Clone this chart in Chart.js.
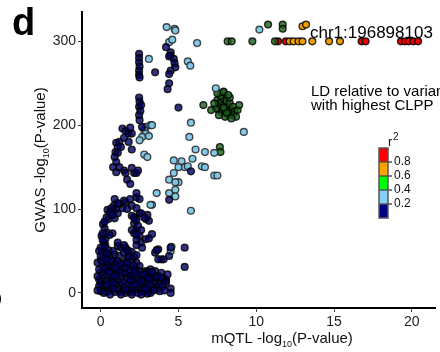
<!DOCTYPE html>
<html>
<head>
<meta charset="utf-8">
<script src="https://cdn.jsdelivr.net/npm/chart.js@4.4.0/dist/chart.umd.min.js"></script>
<style>
  html, body { margin: 0; padding: 0; background: #fff; }
  #wrap { width: 440px; height: 352px; position: relative; }
</style>
</head>
<body>
<div id="wrap"><canvas id="ldScatter" width="440" height="352"></canvas></div>
<script>
// [mQTL -log10 P, GWAS -log10 P] per LD bin
const navyPoints = [
  [0,2],[0.1,5],[0.2,9],[0,12],[0.3,15],[0.1,18],[0.4,21],[0,24],[0.2,27],[0.5,30],[0.1,33],[0.3,36],
  [0,39],[0.4,42],[0.2,45],[0.1,48],[0.5,51],[0,54],[0.3,57],[0.2,60],[0.6,3],[0.7,8],[0.6,13],[0.8,17],
  [0.6,22],[0.9,26],[0.7,30],[0.5,34],[0.8,38],[0.6,44],[-0.1,28],[-0.1,8],[0.4,1],[0.9,1],[-0.1,16],[0.2,0],
  [1.2,1],[1.4,3],[1.6,0],[1.8,2],[2.0,1],[2.2,4],[2.4,0],[2.6,2],[2.8,1],[3.0,3],[3.2,0],[1.1,6],
  [1.5,7],[1.9,6],[2.3,8],[2.7,6],[3.1,7],[1.0,10],[1.3,12],[1.1,16],[1.5,14],[1.7,18],[1.3,20],[1.0,22],
  [1.2,27],[1.6,24],[1.9,21],[2.0,12],[1.8,10],[2.2,14],[2.5,12],[2.4,18],[2.6,22],[2.8,16],[2.7,10],[3.0,12],
  [3.2,15],[3.0,20],[3.3,22],[3.5,18],[3.4,12],[3.6,8],[3.8,14],[3.7,20],[3.9,24],[3.5,26],[3.2,28],[2.9,26],
  [3.8,10],[3.6,4],[3.4,6],[4.0,18],[4.2,15],[4.3,22],[1.1,56],[1.3,54],[1.6,54],[1.8,50],[0.9,46],[1.2,44],
  [0.75,38],[1.0,35],[1.5,36],[1.7,42],[2.0,40],[2.3,36],[2.5,32],[1.4,30],[1.9,32],[2.2,28],[0.8,50],[0.06,68],
  [0.25,77],[0.15,82],[0.4,72],[0.3,64],[0.5,88],[0.75,94],[0.9,89],[1.0,100],[1.1,95],[0.6,98],[0.85,104],[1.4,101],
  [1.6,108],[2.0,104],[2.3,101],[2.5,95],[0.9,112],[1.5,110],[1.7,100],[1.2,106],[1.9,112],[2.0,92],[2.15,83],[2.3,74],
  [2.5,68],[2.6,60],[2.66,54],[2.9,64],[3.1,65],[3.1,86],[2.9,88],[2.6,95],[2.4,80],[2.2,88],[3.0,93],[3.3,70],
  [3.5,48],[3.9,40],[3.7,52],[4.5,54],[4.4,44],[5.4,54],[5.4,31],[4.5,5],[4.5,0],[3.7,40],[4.05,40],[4.2,15],
  [4.2,12],[4.4,111],[2.3,114],[2.5,112],[1.0,179],[1.2,180],[1.1,174],[0.95,168],[0.9,162],[1.0,156],[1.1,167],[1.3,174],
  [1.8,180],[2.0,171],[1.0,144],[1.5,146],[1.6,143],[1.7,135],[2.15,143],[2.3,143],[2.4,146],[2.0,149],[1.4,196],[1.6,193],
  [1.8,190],[2.0,190],[1.5,185],[1.9,197],[0.8,150],[1.2,150],[1.9,130],[2.47,285],[2.47,280],[2.47,275],[2.5,270],[2.47,265],
  [2.47,260],[2.5,257],[2.47,233],[2.5,228],[2.47,222],[2.55,217],[2.47,212],[2.5,206],[2.6,224],[2.66,198],[3.5,263],[4.2,293],
  [4.5,287],[4.5,283],[4.4,282],[4.7,279],[4.75,274],[4.8,269],[4.5,265],[4.4,261],[4.4,250],[4.3,243],[5.0,221],[5.8,145],
  [-0.2,3],[-0.2,20],[-0.2,36],[0.1,38],[0.3,30],[0.5,25],[0.4,10],[0.8,5],[0.8,12],[0.9,20],[1.0,30],[1.1,38],
  [1.3,34],[1.4,24],[1.6,30],[1.7,36],[1.9,27],[2.1,33],[2.1,20],[2.2,10],[1.9,15],[1.6,4],[1.3,-2],[0.6,-2],
  [2.0,-2],[2.6,-2],[3.0,-1],[2.5,26],[2.3,23],[0.2,51],[0.4,47],[0.0,44],[-0.1,50],[0.35,40],[3.0,25],[3.3,25],
  [3.6,19],[3.9,18],[2.8,22],[3.1,17],[3.4,3],[3.8,2],[4.0,8],[4.1,3],[3.2,10],[2.9,5],[2.6,14],[0.44,99],
  [0.38,90],[0.25,85],[0.13,71],[0.13,63],[0.25,55],[0.7,101],[0.57,95],[0.76,93],[2.15,90],[2.3,87],[2.6,75],[2.8,90],
  [2.0,75],[2.15,71],[2.3,69],[2.3,63],[2.3,57],[0.76,71],[0.57,69],[1.1,60],[1.5,57],[1.5,48],[1.7,51],[2.0,49],
  [1.8,43],[2.15,43],[2.3,45],[2.15,25],[3.6,51],[2.3,119],[1.1,107]
];
const lightBluePoints = [
  [4.24,317],[4.75,315],[4.8,313],[4.4,299],[4.6,302],[6.2,298],[5.6,276],[5.76,271],[3.1,279],[2.9,198],[3.2,200],[2.8,194],
  [2.9,190],[2.66,186],[2.5,182],[3.3,200],[3.1,187],[2.8,165],[3.0,162],[5.8,203],[5.7,186],[9.2,192],[6.1,171],[6.7,168],
  [7.3,167],[5.2,157],[5.9,160],[5.4,150],[5.6,151],[5.0,150],[6.5,151],[6.7,150],[7.3,140],[7.5,140],[5.0,132],[4.7,158],
  [4.7,143],[4.4,135],[4.8,132],[3.6,119],[4.4,119],[4.8,123],[4.8,115],[3.3,105],[5.8,98],[4.5,50],[4.55,55],[7.4,244],
  [10.2,314],[3.2,105]
];
const greenPoints = [
  [10.76,320],[11.7,320],[11.7,315],[8.16,300],[8.42,300],[9.75,300],[11.2,300],
  [7.5,230],[7.6,226],[7.7,222],[7.8,228],[7.9,232],[8.0,225],[7.6,218],[7.8,215],[8.0,219],[8.2,222],[8.1,229],[7.7,235],
  [7.9,239],[8.3,226],[8.4,218],[8.5,222],[8.6,216],[8.5,212],[8.2,212],[8.0,210],[7.6,212],[7.4,220],[7.3,226],[8.8,218],
  [8.7,210],[8.4,208],[8.1,215],[7.9,221],[8.3,233],[7.5,238],[6.6,224],[7.1,218],[7.9,240],[8.9,224],[7.66,174],[7.7,168],
  [8.2,236]
];
const orangePoints = [
  [12.15,300],[12.4,300],[12.72,300],[12.97,300],[13.6,300],[14.68,300],[15.38,300],[12.97,318],[13.2,320]
];
const redPoints = [
  [11.4,300],[11.9,300],[16.77,300],[17.03,300],[19.3,300],[19.56,300],[19.8,300],[20.1,300],[20.4,300]
];

const xTicks = [0, 5, 10, 15, 20];
const yTicks = [0, 100, 200, 300];
const legendColors = ['#ff0000', '#ffa500', '#00ff00', '#87cefa', '#000080'];
const legendLabels = ['0.8', '0.6', '0.4', '0.2'];
const panelLetter = 'd';
const snpLabel = 'chr1:196898103';
const ldNote = ['LD relative to variant', 'with highest CLPP'];

const FONT = '"Liberation Sans", Arial, Helvetica, sans-serif';

const toXY = pts => pts.map(p => ({ x: p[0], y: p[1] }));

function makeSet(pts, fill, border) {
  return {
    data: toXY(pts),
    backgroundColor: fill,
    borderColor: border,
    borderWidth: 1.4,
    pointRadius: 3.4,
    pointHoverRadius: 3.4
  };
}

// draws "pre" + subscript "10" + "post", centred on the origin
function drawSubText(ctx, pre, sub, post, size) {
  const subSize = Math.round(size * 0.62);
  ctx.font = size + 'px ' + FONT;
  const w1 = ctx.measureText(pre).width;
  const w3 = ctx.measureText(post).width;
  ctx.font = subSize + 'px ' + FONT;
  const w2 = ctx.measureText(sub).width;
  let x = -(w1 + w2 + w3) / 2;
  ctx.textBaseline = 'alphabetic';
  ctx.textAlign = 'left';
  ctx.font = size + 'px ' + FONT;
  ctx.fillText(pre, x, 0);
  x += w1;
  ctx.font = subSize + 'px ' + FONT;
  ctx.fillText(sub, x, size * 0.25);
  x += w2;
  ctx.font = size + 'px ' + FONT;
  ctx.fillText(post, x, 0);
}

const decorations = {
  id: 'decorations',
  afterDraw(chart) {
    const ctx = chart.ctx;
    ctx.save();
    ctx.fillStyle = '#000';

    // panel letter
    ctx.font = 'bold 38px ' + FONT;
    ctx.textAlign = 'left';
    ctx.textBaseline = 'alphabetic';
    ctx.fillText(panelLetter, 12, 35);

    // axis titles
    ctx.fillStyle = '#111';
    ctx.save();
    ctx.translate(282, 343);
    drawSubText(ctx, 'mQTL -log', '10', '(P-value)', 15);
    ctx.restore();
    ctx.save();
    ctx.translate(45, 160);
    ctx.rotate(-Math.PI / 2);
    drawSubText(ctx, 'GWAS -log', '10', '(P-value)', 15);
    ctx.restore();

    // annotations
    ctx.fillStyle = '#000';
    ctx.textAlign = 'left';
    ctx.font = '17px ' + FONT;
    ctx.fillText(snpLabel, 310, 38);
    ctx.font = '15px ' + FONT;
    ctx.fillText(ldNote[0], 311, 96);
    ctx.fillText(ldNote[1], 311, 110);

    // r2 colour key
    const bx = 379, by = 148, bw = 9, bh = 14;
    legendColors.forEach((c, i) => {
      ctx.fillStyle = c;
      ctx.fillRect(bx, by + i * bh, bw, bh);
    });
    ctx.strokeStyle = '#555';
    ctx.lineWidth = 1.5;
    ctx.strokeRect(bx, by, bw, bh * legendColors.length);
    ctx.fillStyle = '#111';
    ctx.font = '12px ' + FONT;
    ctx.textBaseline = 'middle';
    legendLabels.forEach((t, i) => {
      const yy = by + (i + 1) * bh;
      ctx.beginPath();
      ctx.moveTo(bx, yy);
      ctx.lineTo(bx + bw + 4, yy);
      ctx.stroke();
      ctx.fillText(t, bx + bw + 6, yy);
    });
    ctx.textBaseline = 'alphabetic';
    ctx.font = '13px ' + FONT;
    ctx.fillText('r', 388, 146);
    ctx.font = '10px ' + FONT;
    ctx.fillText('2', 393, 140);

    // fragment of neighbouring panel
    ctx.font = '15px ' + FONT;
    ctx.fillText(')', -3, 303);
    ctx.restore();
  }
};

const tickFont = { family: FONT, size: 14 };

new Chart(document.getElementById('ldScatter'), {
  type: 'scatter',
  data: {
    datasets: [
      makeSet(navyPoints, 'rgba(0,0,100,0.8)', 'rgba(0,0,0,0.8)'),
      makeSet(lightBluePoints, 'rgba(125,200,232,0.95)', 'rgba(40,40,40,0.85)'),
      makeSet(greenPoints, 'rgba(25,95,25,0.8)', 'rgba(0,0,0,0.8)'),
      makeSet(orangePoints, '#f0a000', 'rgba(0,0,0,0.8)'),
      makeSet(redPoints, '#ee0000', 'rgba(0,0,0,0.8)')
    ]
  },
  options: {
    responsive: false,
    animation: false,
    devicePixelRatio: 1,
    layout: { padding: { top: 12, right: 0, left: 0, bottom: 0 } },
    plugins: { legend: { display: false }, tooltip: { enabled: false } },
    scales: {
      x: {
        type: 'linear',
        min: -1.2,
        max: 21.5,
        afterBuildTicks: s => { s.ticks = xTicks.map(v => ({ value: v })); },
        afterFit: s => { s.height = 44; },
        grid: { drawOnChartArea: false, drawTicks: true, tickLength: 4, color: '#444' },
        border: { display: true, color: '#000', width: 2 },
        ticks: { font: tickFont, color: '#222', padding: 2, maxRotation: 0, autoSkip: false }
      },
      y: {
        type: 'linear',
        min: -18,
        max: 335,
        afterBuildTicks: s => { s.ticks = yTicks.map(v => ({ value: v })); },
        afterFit: s => { s.width = 82; },
        grid: { drawOnChartArea: false, drawTicks: true, tickLength: 4, color: '#444' },
        border: { display: true, color: '#000', width: 2 },
        ticks: { font: tickFont, color: '#222', padding: 2, autoSkip: false }
      }
    }
  },
  plugins: [decorations]
});
</script>
</body>
</html>
